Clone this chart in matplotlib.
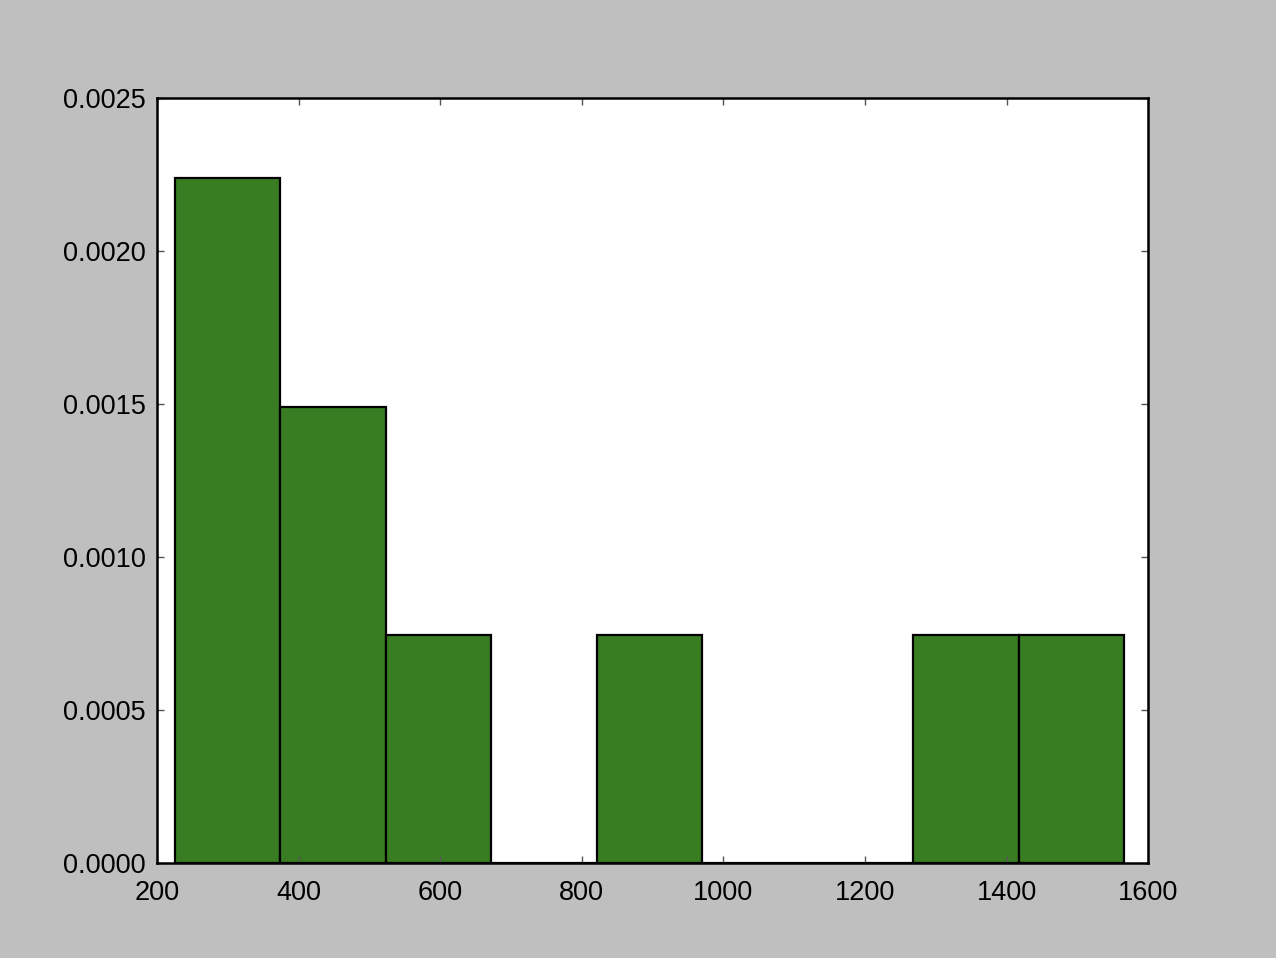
import matplotlib.pyplot as plt
import numpy as np

# bin edges and counts (9 samples, density histogram)
bin_edges = [225, 374, 523, 672, 821, 970, 1119, 1268, 1417, 1566]
counts = [3, 2, 1, 0, 1, 0, 0, 1, 1]

x_ticks = [200, 400, 600, 800, 1000, 1200, 1400, 1600]
y_ticks = [0.0, 0.0005, 0.0010, 0.0015, 0.0020, 0.0025]

plt.rcParams['font.family'] = ['Liberation Sans', 'DejaVu Sans']

fig = plt.figure(figsize=(12.76, 9.58), dpi=100, facecolor='#bfbfbf')
ax = fig.add_axes([0.123, 0.099, 0.777, 0.799])

centers = (np.array(bin_edges[:-1]) + np.array(bin_edges[1:])) / 2
ax.hist(centers, bins=bin_edges, weights=counts, density=True,
        color='#387d22', edgecolor='black', linewidth=1.6)

ax.set_xlim(200, 1600)
ax.set_ylim(0, 0.0025)
ax.set_xticks(x_ticks)
ax.set_yticks(y_ticks)
ax.set_yticklabels(['%.4f' % v for v in y_ticks])

ax.tick_params(direction='in', length=5, width=1.0, color='#555555',
               labelsize=19.5, top=True, right=True)
ax.tick_params(axis='y', pad=8)
ax.tick_params(axis='x', pad=12)
for s in ax.spines.values():
    s.set_linewidth(1.8)

plt.savefig('out.png', dpi=100, facecolor=fig.get_facecolor())
